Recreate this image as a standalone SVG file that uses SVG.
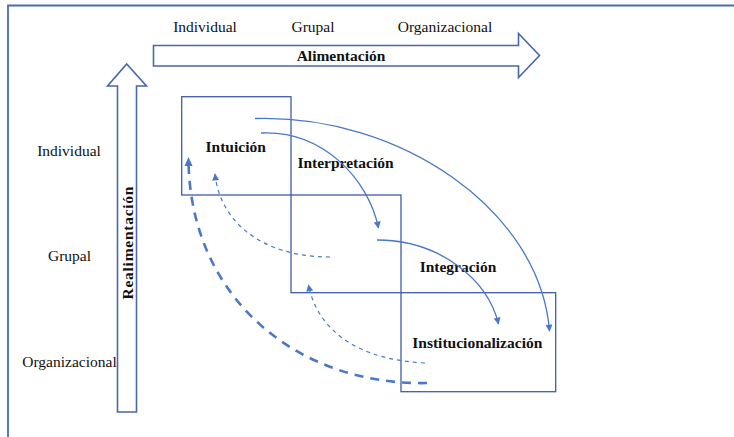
<svg xmlns="http://www.w3.org/2000/svg" width="734" height="437" viewBox="0 0 734 437">
<style>
.lbl{font-family:"Liberation Serif","Times New Roman",serif;font-size:15.5px;fill:#111;}
.b{font-weight:bold;}
.box{fill:none;stroke:#3d5ea8;stroke-width:1.3;}
.bigarrow{fill:#fff;stroke:#4a67aa;stroke-width:1.6;}
.solid{fill:none;stroke:#4a78c8;stroke-width:1.3;}
.dash{fill:none;stroke:#4a78c8;stroke-width:1.2;stroke-dasharray:4 4;}
.dashthick{fill:none;stroke:#4a78c8;stroke-width:2.6;stroke-dasharray:9 7;}
</style>
<defs>
<marker id="ah" viewBox="0 0 10 10" refX="9" refY="5" markerWidth="8" markerHeight="7" markerUnits="userSpaceOnUse" orient="auto">
<path d="M0,0 L10,5 L0,10 Z" fill="#4a78c8"/>
</marker>
</defs>
<rect width="734" height="437" fill="#fff"/>
<g id="frame">
<path d="M8,437 L8,5.5 L734,5.5" fill="none" stroke="#4a6aad" stroke-width="1.8"/>
</g>
<g id="alimentacion">
<path class="bigarrow" d="M153.5,45.5 L518.5,45.5 L518.5,33.5 L539.5,55.5 L518.5,77.5 L518.5,66 L153.5,66 Z"/>
<text class="lbl b" x="341" y="60.5" text-anchor="middle">Alimentación</text>
</g>
<g id="realimentacion">
<path class="bigarrow" d="M117.5,412 L117.5,86 L107.5,86 L126.7,64 L146.5,86 L136.5,86 L136.5,412 Z"/>
<text class="lbl b" transform="translate(132.5,243) rotate(-90)" text-anchor="middle" textLength="113">Realimentación</text>
</g>
<g id="top-levels">
<text class="lbl" x="205" y="31.5" text-anchor="middle">Individual</text>
<text class="lbl" x="313" y="31.5" text-anchor="middle">Grupal</text>
<text class="lbl" x="445" y="31.5" text-anchor="middle">Organizacional</text>
</g>
<g id="left-levels">
<text class="lbl" x="69" y="156" text-anchor="middle">Individual</text>
<text class="lbl" x="69.5" y="261" text-anchor="middle">Grupal</text>
<text class="lbl" x="69.5" y="366.5" text-anchor="middle">Organizacional</text>
</g>
<g id="intuicion">
<rect class="box" x="181.7" y="96.7" width="109.3" height="98.3"/>
<text class="lbl b" x="235.7" y="151.7" text-anchor="middle">Intuición</text>
</g>
<g id="interpretacion">
<rect class="box" x="291" y="195" width="110" height="97.7"/>
<text class="lbl b" x="345.5" y="168.3" text-anchor="middle">Interpretación</text>
</g>
<g id="integracion">
<text class="lbl b" x="458" y="272.3" text-anchor="middle">Integración</text>
</g>
<g id="institucionalizacion">
<rect class="box" x="401" y="292.7" width="154.7" height="99"/>
<text class="lbl b" x="477.3" y="348.3" text-anchor="middle">Institucionalización</text>
</g>
<g id="connectors">
<path class="solid" d="M255,118.5 C400,114 540,210 549.5,331" marker-end="url(#ah)"/>
<path class="solid" d="M261,133 C322,130 368,178 378.5,228" marker-end="url(#ah)"/>
<path class="solid" d="M377,240 C440,240 488,280 498.5,324" marker-end="url(#ah)"/>
<path class="dash" d="M330,257 C262,257 220,222 215,174" marker-end="url(#ah)"/>
<path class="dash" d="M425,363 C360,360 318,332 308.5,285" marker-end="url(#ah)"/>
<path class="dashthick" d="M427,383 C300,386 190,300 188.5,160"/>
<path d="M188.5,157 L184.5,166 L192.5,166 Z" fill="#4a78c8"/>
</g>
</svg>
